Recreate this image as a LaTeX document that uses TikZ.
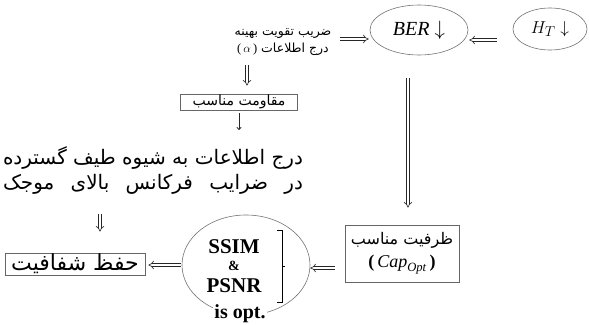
\documentclass[tikz,border=0pt]{standalone}
\usepackage{fontspec}
\setmainfont{Liberation Serif}
\newfontfamily\fa[Script=Arabic]{DejaVu Sans}
\TeXXeTstate=1
\usetikzlibrary{arrows.meta,shapes.geometric}
\newcommand\rtltext[1]{\beginR #1\endR}
\begin{document}
\begin{tikzpicture}[x=1pt,y=-1pt,
  dbl/.style={draw=black!85, double, double distance=2.4pt, line width=0.6pt, -{Implies}},
  sgl/.style={draw=black!85, line width=0.8pt, -{To[length=3pt,width=5pt]}},
  boxed/.style={draw=black!60, line width=0.7pt, inner sep=1pt},
  ell/.style={ellipse, draw=black!55, line width=0.6pt, inner sep=0pt},
  fatext/.style={inner sep=0pt, align=center},
  ssimtext/.style={inner sep=0pt, anchor=base, font=\bfseries\fontsize{21}{21}\selectfont}]
\useasboundingbox (0,0) rectangle (589,324);

% top text
\node[fatext, font=\fa\fontsize{12.5}{17}\selectfont] (top) at (283,42)
  {\rtltext{ضریب تقویت بهینه}\\
   {\rmfamily(\,$\alpha$\,)}\ \rtltext{درج اطلاعات}};

% ellipses top row
\node[ell, minimum width=98, minimum height=50, font=\fontsize{20}{20}\selectfont] (ber) at (419,30)
  {\textit{BER} $\downarrow$};
\node[ell, minimum width=74, minimum height=42, font=\fontsize{19}{19}\selectfont] (ht) at (550,29)
  {$H_T\downarrow$};

% resistance box
\node[boxed, fatext, inner sep=0.5pt, minimum width=117, minimum height=16,
  font=\fa\fontsize{14}{15}\selectfont] (resist) at (239,102)
  {\rtltext{مقاومت مناسب}};

% big text
\node[fatext, text width=300pt, font=\fa\fontsize{20}{25}\selectfont] (big) at (153,170)
  {\hbox to 300pt{\spaceskip=0.3em plus 1fil\rtltext{درج اطلاعات به شیوه طیف گسترده}}
   \hbox to 300pt{\spaceskip=0.3em plus 1fil\rtltext{در ضرایب فرکانس بالای موجک}}};

% transparency box
\node[boxed, fatext, inner sep=0.5pt, minimum width=140, minimum height=22,
  font=\fa\fontsize{22}{22}\selectfont] (transp) at (75,264)
  {\rtltext{حفظ شفافیت}};

% SSIM ellipse
\node[ell, minimum width=128, minimum height=100] (ssim) at (246,265) {};
\node[ssimtext] (ssimA) at (234,253) {SSIM};
\node[ssimtext, font=\bfseries\fontsize{14}{14}\selectfont] (ssimB) at (234,270) {\&};
\node[ssimtext] (ssimC) at (234,292) {PSNR};
\draw[line width=1pt] (277,230) -- (282,230) -- (282,302) -- (277,302);
\draw[line width=0.8pt] (282,266) -- (285,266);
\node[fill=white, inner sep=1pt, font=\bfseries\fontsize{20}{20}\selectfont] (opt) at (240,314)
  {is opt.};

% capacity box
\node[boxed, align=center, minimum width=114, minimum height=57, inner sep=2pt,
  font=\fontsize{18}{20}\selectfont] (cap) at (402,253.5)
  {{\fa\fontsize{16}{17}\selectfont\rtltext{ظرفیت مناسب}}\\[3pt]
   {\bfseries(}\,$\mathit{Cap}_{\mathit{Opt}}$\,{\bfseries)}};

% connectors
\coordinate (a5) at ([yshift=-9pt]ber.west);
\draw[dbl, shorten <=8pt, shorten >=1pt] (a5 -| top.east) -- (a5);
\coordinate (a6) at ([yshift=-10pt]ber.east);
\draw[dbl, shorten <=16pt, shorten >=1pt] (a6 -| ht.west) -- (a6);
\coordinate (a1) at ([xshift=8pt]resist.north);
\draw[dbl, shorten <=9pt, shorten >=8pt] (a1 |- top.south) -- (a1);
\draw[sgl, shorten <=3pt, shorten >=16pt] (resist.south) -- (resist.south |- big.north);
\coordinate (a2) at ([xshift=25pt]transp.north);
\draw[dbl, shorten <=20pt, shorten >=21pt] (a2 |- big.south) -- (a2);
\coordinate (a4) at ([xshift=6pt]cap.north);
\draw[dbl, shorten <=23pt, shorten >=17pt] (a4 |- ber.south) -- (a4);
\coordinate (a3) at ([yshift=-14.5pt]cap.west);
\draw[dbl, shorten <=10pt, shorten >=0pt] (a3) -- (a3 -| ssim.east);
\draw[dbl, shorten <=1pt, shorten >=3pt] (ssim.west) -- (ssim.west -| transp.east);
\end{tikzpicture}
\end{document}
